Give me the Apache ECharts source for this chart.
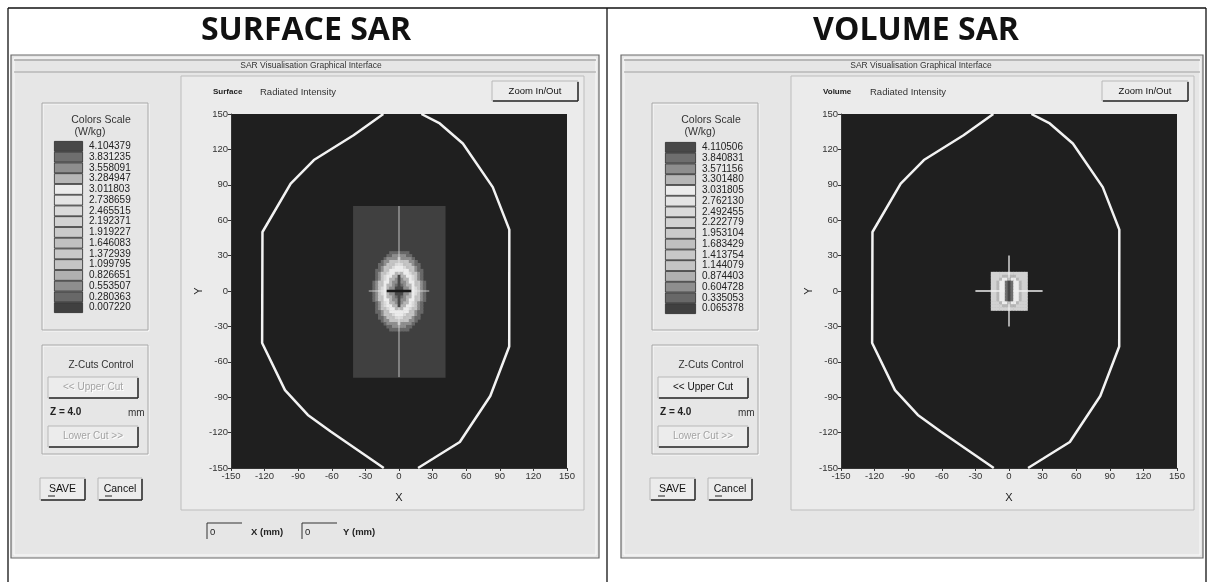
<!DOCTYPE html>
<html>
<head>
<meta charset="utf-8">
<title>Surface SAR / Volume SAR</title>
<script src="https://cdn.jsdelivr.net/npm/echarts@6/dist/echarts.min.js"></script>
<style>
  html, body { margin: 0; padding: 0; background: #fff; }
  #chart { width: 1213px; height: 582px; }
</style>
</head>
<body>
<div id="chart"></div>
<script>
// phantom outline in mm (same for both scans), drawn as two open curves
const outlineLeft = [[-14, 150], [-40.6, 132], [-76, 111], [-96.7, 91], [-121.9, 50], [-122.2, -44], [-101.8, -84], [-81.4, -105], [-61, -119], [-13.6, -150]]
const outlineRight = [[20, 150], [36.4, 142], [57, 125], [83.7, 88], [98.5, 52], [98.4, -47], [81.5, -89], [54.3, -128], [30.6, -142], [17, -150]]

// colour scale values W/kg, low -> high
const surfaceScale = [0.007220, 0.280363, 0.553507, 0.826651, 1.099795, 1.372939, 1.646083, 1.919227, 2.192371, 2.465515, 2.738659, 3.011803, 3.284947, 3.558091, 3.831235, 4.104379]
const volumeScale = [0.065378, 0.335053, 0.604728, 0.874403, 1.144079, 1.413754, 1.683429, 1.953104, 2.222779, 2.492455, 2.762130, 3.031805, 3.301480, 3.571156, 3.840831, 4.110506]
// grey shade of each scale step (scan is monochrome)
const scaleGreys = ['#404040', '#686868', '#8e8e8e', '#b0b0b0', '#c4c4c4', '#c8c8c8', '#c0c0c0', '#cacaca', '#d2d2d2', '#dadada', '#e4e4e4', '#ececec', '#b6b6b6', '#8e8e8e', '#6e6e6e', '#484848']

// surface scan: measured area [xMin, xMax, yMin, yMax] mm, lowest level
const surfaceArea = [-41, 41, -73, 72]
// surface field, level codes (0-f = scale step), '.' = lowest step
// rows y = 35 .. -35 mm, columns x = -25 .. 25 mm, 2.5 mm pitch
const surfaceGrid = [
  '.....................',
  '.......1111111.......',
  '......112222211......',
  '.....12222422221.....',
  '....1224444444221....',
  '...112446999644211...',
  '...124469bbb964421...',
  '..11246bbbbbbb64211..',
  '..12469bbcccbb96421..',
  '..1249bbccfccbb9421..',
  '..1249bccdfdccb9421..',
  '.1246bbcddfddcbb6421.',
  '.1246bccdefedccb6421.',
  '.1249bcddfffddcb9421.',
  '.1249bcddfffddcb9421.',
  '.1249bcddfffddcb9421.',
  '.1246bccdefedccb6421.',
  '.1246bbcddfddcbb6421.',
  '..1249bccdfdccb9421..',
  '..1249bbccfccbb9421..',
  '..12469bbcccbb96421..',
  '..11246bbbbbbb64211..',
  '...124469bbb964421...',
  '...112446999644211...',
  '....1224444444221....',
  '.....12222422221.....',
  '......112222211......',
  '.......1111111.......',
  '.....................'
]
const surfaceOrigin = [-25, 35]

// volume scan: rows y = 15 .. -15 mm, columns x = -15 .. 15 mm, 2.5 mm pitch
const volumeGrid = [
  '8888888888888',
  '8888ccccc8888',
  '888cbbebbc888',
  '88cbbefebbc88',
  '88cbbefebbc88',
  '88cbbefebbc88',
  '88cbbefebbc88',
  '88cbbefebbc88',
  '88cbbefebbc88',
  '88cbbefebbc88',
  '888cbbebbc888',
  '8888ccccc8888',
  '8888888888888'
]
const volumeOrigin = [-15, 15]
const gridPitch = 2.5

// probe cursor segments (mm)
const surfaceCursorLight = [[[-27, 0], [27, 0]], [[0, 72], [0, 14]], [[0, -14], [0, -73]]]
const surfaceCursorDark = [[[-11, 0], [11, 0]]]
const volumeCursorLight = [[[-30, 0], [-4, 0]], [[4, 0], [30, 0]], [[0, 30], [0, 9]], [[0, -9], [0, -30]]]

const UI = 'Liberation Sans, Arial, sans-serif'

function gridCells(rows, origin, scale) {
  const out = []
  rows.forEach((row, r) => {
    row.split('').forEach((ch, c) => {
      if (ch === '.') return
      out.push([origin[0] + c * gridPitch, origin[1] - r * gridPitch, gridPitch, gridPitch, scale[parseInt(ch, 16)]])
    })
  })
  return out
}

function levelGrey(v, scale) {
  let i = 0
  while (i < scale.length - 1 && v >= scale[i + 1]) i++
  return scaleGreys[i]
}

function cellRenderer(scale) {
  return function (params, api) {
    const x = api.value(0), y = api.value(1), w = api.value(2), h = api.value(3)
    const a = api.coord([x - w / 2, y + h / 2])
    const b = api.coord([x + w / 2, y - h / 2])
    return {
      type: 'rect',
      shape: { x: a[0], y: a[1], width: b[0] - a[0] + 0.6, height: b[1] - a[1] + 0.6 },
      style: { fill: levelGrey(api.value(4), scale) }
    }
  }
}

const surfaceCells = [[
  (surfaceArea[0] + surfaceArea[1]) / 2, (surfaceArea[2] + surfaceArea[3]) / 2,
  surfaceArea[1] - surfaceArea[0], surfaceArea[3] - surfaceArea[2], surfaceScale[0]
]].concat(gridCells(surfaceGrid, surfaceOrigin, surfaceScale))
const volumeCells = gridCells(volumeGrid, volumeOrigin, volumeScale)

function plotAxis(gridIndex, name, isY) {
  return {
    type: 'value', gridIndex, min: -150, max: 150, interval: 30,
    name, nameLocation: 'middle', nameGap: isY ? 27 : 24, nameRotate: isY ? 90 : 0,
    nameTextStyle: { color: '#222', fontSize: 11, fontFamily: UI },
    axisLine: { show: true, onZero: false, lineStyle: { color: '#333', width: 1 } },
    axisTick: { show: true, length: 3, lineStyle: { color: '#333' } },
    axisLabel: { color: '#333', fontSize: 9.5, fontFamily: UI, margin: 3 },
    splitLine: { show: false }
  }
}

function scaleAxes(gridIndex, scale) {
  return {
    x: { type: 'value', gridIndex, min: 0, max: 1, show: false },
    y: {
      type: 'category', gridIndex, position: 'right',
      data: scale.map(v => v.toFixed(6)),
      axisLine: { show: false }, axisTick: { show: false },
      axisLabel: { color: '#222', fontSize: 10, fontFamily: UI, margin: 6, interval: 0 }
    }
  }
}

function lineSeries(points, idx, color, width) {
  return {
    type: 'line', xAxisIndex: idx, yAxisIndex: idx, data: points,
    showSymbol: false, symbol: 'none', silent: true, clip: true, z: 5,
    lineStyle: { color, width }
  }
}

// ---------- UI chrome (graphic) ----------
function txt(x, y, s, font, fill, align) {
  return {
    type: 'text', x, y, silent: true, z: 10,
    style: { text: s, font, fill: fill || '#222', align: align || 'left', verticalAlign: 'middle', textAlign: align || 'left', textVerticalAlign: 'middle' }
  }
}
function box(x, y, w, h, fill, stroke, lw, z) {
  return { type: 'rect', silent: true, z: z == null ? -5 : z, shape: { x, y, width: w, height: h }, style: { fill: fill || 'none', stroke: stroke || 'none', lineWidth: lw || 1 } }
}
function seg(x1, y1, x2, y2, stroke, lw, z) {
  return { type: 'line', silent: true, z: z == null ? -4 : z, shape: { x1, y1, x2, y2 }, style: { stroke, lineWidth: lw || 1 } }
}
function button(x, y, w, h, label, enabled, font) {
  const f = font || '10px ' + UI
  const els = [
    box(x, y, w, h, '#ececec', '#b8b8b8', 1, -4),
    seg(x + 1, y + h, x + w, y + h, '#2a2a2a', 1.5, -3),
    seg(x + w, y + 1, x + w, y + h, '#2a2a2a', 1.5, -3)
  ]
  if (enabled) {
    els.push(txt(x + w / 2, y + h / 2, label, f, '#111', 'center'))
  } else {
    els.push(txt(x + w / 2 + 1, y + h / 2 + 1, label, f, '#ffffff', 'center'))
    els.push(txt(x + w / 2, y + h / 2, label, f, '#a4a4a4', 'center'))
  }
  return els
}

function panelChrome(ox, winW, title, kind, upperEnabled, withCoords) {
  const els = [
    txt(306 + ox, 31, title, 'bold 32px "Open Sans", sans-serif', '#111', 'center'),
    box(11 + ox, 55, winW, 503, '#e6e6e6', '#6a6a6a', 1.2, -8),
    box(14 + ox, 58, winW - 6, 497, 'none', '#fafafa', 1, -7),
    seg(14 + ox, 60, winW + 8 + ox, 60, '#8a8a8a', 1),
    seg(14 + ox, 72, winW + 8 + ox, 72, '#a0a0a0', 1),
    txt(311 + ox, 66, 'SAR Visualisation Graphical Interface', '8.5px ' + UI, '#333', 'center'),
    box(181 + ox, 76, 403, 434, '#ebebeb', '#bdbdbd', 1, -6),
    txt(213 + ox, 92, kind, 'bold 8px ' + UI, '#222', 'left'),
    txt(260 + ox, 92, 'Radiated Intensity', '9.5px ' + UI, '#333', 'left'),
    // colour scale frame
    box(42 + ox, 103, 106, 227, 'none', '#a8a8a8', 1, -5),
    box(43 + ox, 104, 106, 227, 'none', '#fafafa', 1, -6),
    txt(101 + ox, 120, 'Colors Scale', '10.5px ' + UI, '#333', 'center'),
    txt(90 + ox, 132, '(W/kg)', '10.5px ' + UI, '#333', 'center'),
    // z-cuts frame
    box(42 + ox, 345, 106, 109, 'none', '#a8a8a8', 1, -5),
    box(43 + ox, 346, 106, 109, 'none', '#fafafa', 1, -6),
    txt(101 + ox, 365, 'Z-Cuts Control', '10px ' + UI, '#333', 'center'),
    txt(50 + ox, 412, 'Z = 4.0', 'bold 10px ' + UI, '#222', 'left'),
    txt(128 + ox, 413, 'mm', '10px ' + UI, '#333', 'left'),
    seg(48 + ox, 496, 55 + ox, 496, '#222', 1, 10),
    seg(105 + ox, 496, 112 + ox, 496, '#222', 1, 10)
  ]
  els.push(...button(492 + ox, 81, 86, 20, 'Zoom In/Out', true, '9.5px ' + UI))
  els.push(...button(48 + ox, 377, 90, 21, '<< Upper Cut', upperEnabled))
  els.push(...button(48 + ox, 426, 90, 21, 'Lower Cut >>', false))
  els.push(...button(40 + ox, 478, 45, 22, 'SAVE', true, '10.5px ' + UI))
  els.push(...button(98 + ox, 478, 44, 22, 'Cancel', true, '10.5px ' + UI))
  if (withCoords) {
    els.push(
      seg(207 + ox, 523, 242 + ox, 523, '#333', 1),
      seg(207 + ox, 523, 207 + ox, 539, '#333', 1),
      txt(210 + ox, 532, '0', '9.5px ' + UI, '#222', 'left'),
      txt(251 + ox, 532, 'X (mm)', 'bold 9.5px ' + UI, '#222', 'left'),
      seg(302 + ox, 523, 337 + ox, 523, '#333', 1),
      seg(302 + ox, 523, 302 + ox, 539, '#333', 1),
      txt(305 + ox, 532, '0', '9.5px ' + UI, '#222', 'left'),
      txt(343 + ox, 532, 'Y (mm)', 'bold 9.5px ' + UI, '#222', 'left')
    )
  }
  return els
}

const frame = [
  seg(8, 8, 1206, 8, '#111', 1.3, 10),
  seg(8, 8, 8, 582, '#111', 1.3, 10),
  seg(607, 8, 607, 582, '#111', 1.3, 10),
  seg(1206, 8, 1206, 582, '#111', 1.3, 10)
]

const sAx = scaleAxes(2, surfaceScale)
const vAx = scaleAxes(3, volumeScale)

const option = {
  animation: false,
  backgroundColor: '#ffffff',
  textStyle: { fontFamily: UI },
  grid: [
    { left: 231, top: 114, width: 336, height: 354, show: true, backgroundColor: '#1f1f1f', borderWidth: 0 },
    { left: 841, top: 114, width: 336, height: 354, show: true, backgroundColor: '#1f1f1f', borderWidth: 0 },
    { left: 54, top: 141, width: 29, height: 172 },
    { left: 665, top: 142, width: 31, height: 172 }
  ],
  xAxis: [plotAxis(0, 'X', false), plotAxis(1, 'X', false), sAx.x, vAx.x],
  yAxis: [plotAxis(0, 'Y', true), plotAxis(1, 'Y', true), sAx.y, vAx.y],
  graphic: { elements: frame.concat(panelChrome(0, 588, 'SURFACE SAR', 'Surface', false, true), panelChrome(610, 582, 'VOLUME SAR', 'Volume', true, false)) },
  series: [
    { type: 'custom', xAxisIndex: 0, yAxisIndex: 0, data: surfaceCells, encode: { x: 0, y: 1 }, renderItem: cellRenderer(surfaceScale), silent: true, z: 2 },
    { type: 'custom', xAxisIndex: 1, yAxisIndex: 1, data: volumeCells, encode: { x: 0, y: 1 }, renderItem: cellRenderer(volumeScale), silent: true, z: 2 },
    lineSeries(outlineLeft, 0, '#f2f2f2', 2.5),
    lineSeries(outlineRight, 0, '#f2f2f2', 2.5),
    lineSeries(outlineLeft, 1, '#f2f2f2', 2.5),
    lineSeries(outlineRight, 1, '#f2f2f2', 2.5),
    ...surfaceCursorLight.map(s => lineSeries(s, 0, 'rgba(235,235,235,0.75)', 1)),
    ...surfaceCursorDark.map(s => lineSeries(s, 0, '#1a1a1a', 2.5)),
    ...volumeCursorLight.map(s => lineSeries(s, 1, '#f0f0f0', 1.3)),
    {
      type: 'bar', xAxisIndex: 2, yAxisIndex: 2, barWidth: '100%', silent: true,
      data: surfaceScale.map((v, i) => ({ value: 1, itemStyle: { color: scaleGreys[i], borderColor: '#2a2a2a', borderWidth: 0.8 } }))
    },
    {
      type: 'bar', xAxisIndex: 3, yAxisIndex: 3, barWidth: '100%', silent: true,
      data: volumeScale.map((v, i) => ({ value: 1, itemStyle: { color: scaleGreys[i], borderColor: '#2a2a2a', borderWidth: 0.8 } }))
    }
  ]
}

const chart = echarts.init(document.getElementById('chart'), null, { renderer: 'canvas' })
chart.setOption(option)
window.addEventListener('resize', () => chart && chart.resize())
</script>
</body>
</html>
